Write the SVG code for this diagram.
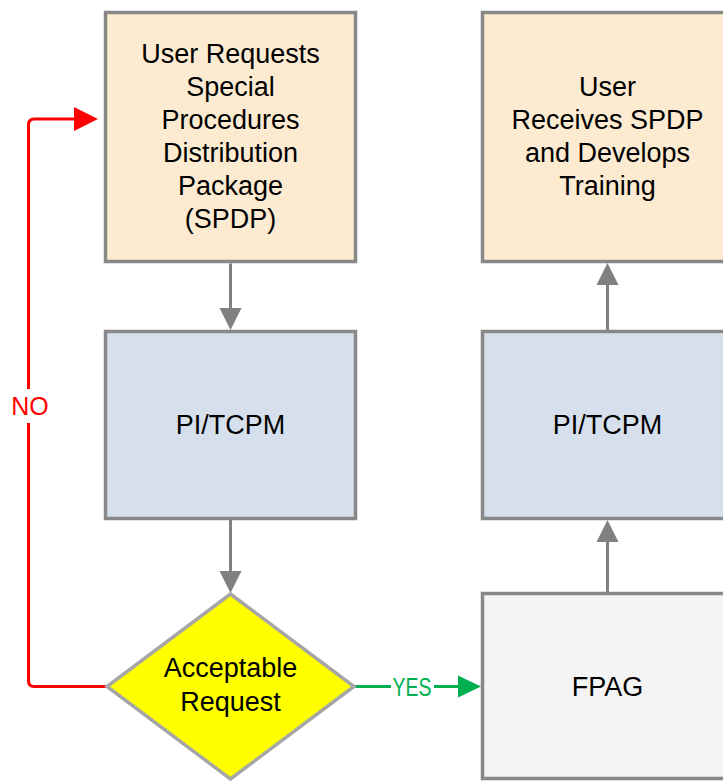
<svg xmlns="http://www.w3.org/2000/svg" width="723" height="781" viewBox="0 0 723 781">
<style>
.box{stroke:#888888;stroke-width:3.5}
.peach{fill:#FCEBD1}
.blue{fill:#D6E0EC}
.grey{fill:#F4F4F4}
.t{font-family:"Liberation Sans",Arial,sans-serif;font-size:27px;fill:#000;text-anchor:middle}
.lbl{font-family:"Liberation Sans",Arial,sans-serif;font-size:25px;text-anchor:middle}
.g{fill:none;stroke:#808080;stroke-width:3}
</style>
<defs>
<marker id="ag" markerUnits="userSpaceOnUse" markerWidth="23" markerHeight="23" refX="0" refY="11" orient="auto" overflow="visible">
<path d="M0,0 L22,11 L0,22 z" fill="#808080"/>
</marker>
<marker id="ar" markerUnits="userSpaceOnUse" markerWidth="25" markerHeight="25" refX="0" refY="12" orient="auto" overflow="visible">
<path d="M0,0 L24,12 L0,24 z" fill="#FF0000"/>
</marker>
<marker id="agr" markerUnits="userSpaceOnUse" markerWidth="24" markerHeight="23" refX="0" refY="11" orient="auto" overflow="visible">
<path d="M0,0 L23,11 L0,22 z" fill="#00B050"/>
</marker>
</defs>
<g id="connectors">
<path class="g" d="M230.5,263.5 V308" marker-end="url(#ag)"/>
<path class="g" d="M230.5,520 V571" marker-end="url(#ag)"/>
<path class="g" d="M607.5,331 V285" marker-end="url(#ag)"/>
<path class="g" d="M607.5,592 V542" marker-end="url(#ag)"/>
<path d="M354,686.5 H391" fill="none" stroke="#00B050" stroke-width="3"/>
<path d="M434,686.5 H458" fill="none" stroke="#00B050" stroke-width="3" marker-end="url(#agr)"/>
<text class="lbl" x="412" y="696" fill="#00B050" textLength="39" lengthAdjust="spacingAndGlyphs">YES</text>
<path d="M106,686.5 H34 Q28.5,686.5 28.5,681 V423" fill="none" stroke="#FF0000" stroke-width="3"/>
<path d="M28.5,389 V125 Q28.5,119 34,119 H74" fill="none" stroke="#FF0000" stroke-width="3" marker-end="url(#ar)"/>
<text class="lbl" x="30" y="415" fill="#FF0000">NO</text>
</g>
<g id="node-request">
<rect class="box peach" x="105.5" y="12.5" width="250" height="249"/>
<text class="t"><tspan x="230.5" y="63">User Requests</tspan><tspan x="230.5" y="96">Special</tspan><tspan x="230.5" y="129">Procedures</tspan><tspan x="230.5" y="162">Distribution</tspan><tspan x="230.5" y="195">Package</tspan><tspan x="230.5" y="228">(SPDP)</tspan></text>
</g>
<g id="node-pitcpm-left">
<rect class="box blue" x="105.5" y="331.5" width="250" height="187"/>
<text class="t" x="230.5" y="434">PI/TCPM</text>
</g>
<g id="node-decision">
<polygon points="230.5,594 354,686.5 230.5,779 107,686.5" fill="#FFFF00" stroke="#A6A6A6" stroke-width="3.5"/>
<text class="t"><tspan x="230.5" y="677">Acceptable</tspan><tspan x="230.5" y="711">Request</tspan></text>
</g>
<g id="node-receives">
<rect class="box peach" x="482.5" y="12.5" width="250" height="249"/>
<text class="t"><tspan x="607.5" y="96">User</tspan><tspan x="607.5" y="129">Receives SPDP</tspan><tspan x="607.5" y="162">and Develops</tspan><tspan x="607.5" y="195">Training</tspan></text>
</g>
<g id="node-pitcpm-right">
<rect class="box blue" x="482.5" y="331.5" width="250" height="187"/>
<text class="t" x="607.5" y="434">PI/TCPM</text>
</g>
<g id="node-fpag">
<rect class="box grey" x="482.5" y="593.5" width="250" height="185"/>
<text class="t" x="607.5" y="696">FPAG</text>
</g>
</svg>
